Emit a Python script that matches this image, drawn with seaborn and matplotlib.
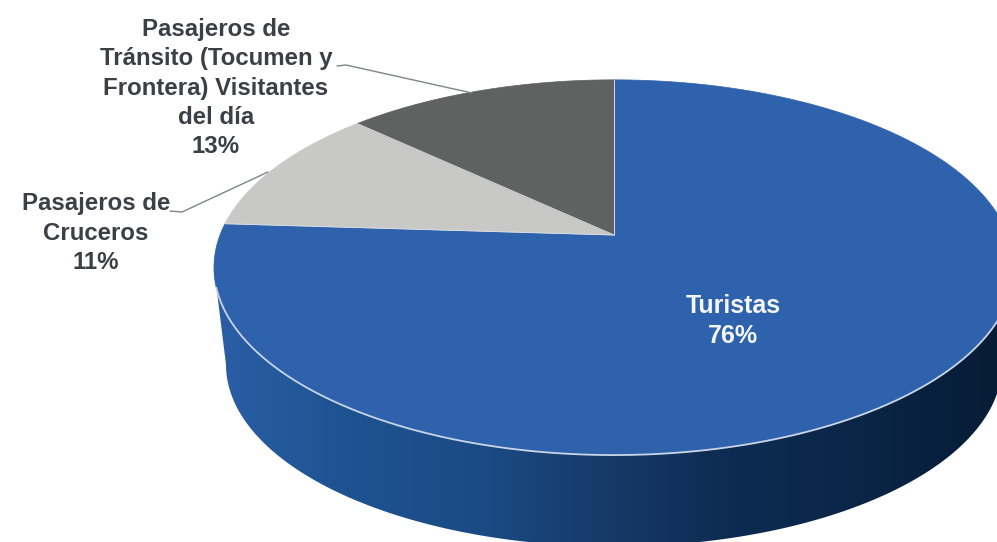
import numpy as np
import matplotlib
matplotlib.use("Agg")
import matplotlib.pyplot as plt
from matplotlib.patches import Polygon
import seaborn as sns

# data, clockwise from 12 o'clock
labels = ["Turistas", "Pasajeros de\nCruceros", "Pasajeros de\nTránsito (Tocumen y\nFrontera) Visitantes\ndel día"]
values = [76, 11, 13]
colors = ["#2f62ad", "#c8c8c6", "#606261"]
wall_colors = ["#2b5ea6", "#1d5391", "#1b4b86", "#163a69", "#0d2b52", "#0a2546", "#071c36"]
text_colors = ["#f4f6fa", "#3b4046", "#3b4046"]
label_pos = [(733, 321), (96, 233), (216, 88)]
label_size = [18, 17.3, 17.3]

# projection of the disc in image pixels
CX, CY = 614, 235
RX, RY = 394, 182
PERSP = 0.173
DEPTH = 98
BOTTOM_SCALE = 0.97


def project(theta, scale=1.0, drop=0.0):
    u, v = np.cos(theta), np.sin(theta)
    w = 1 + PERSP * v
    return CX + scale * RX * u / w, CY + drop - scale * RY * v / w


sns.set_theme(style="white")
plt.rcParams["font.family"] = ["Liberation Sans", "DejaVu Sans"]

fig = plt.figure(figsize=(9.97, 5.42), dpi=100)
ax = fig.add_axes([0, 0, 1, 1])

# side wall, gradient clipped to the band between the two rims
angles = np.radians(np.linspace(150, 390, 800))
tx, ty = project(angles)
bx, by = project(angles, BOTTOM_SCALE, DEPTH)
top_l, top_r = np.argmin(tx), np.argmax(tx)
bot_l, bot_r = np.argmin(bx), np.argmax(bx)
wall_x = np.r_[tx[top_l:top_r + 1], bx[bot_l:bot_r + 1][::-1]]
wall_y = np.r_[ty[top_l:top_r + 1], by[bot_l:bot_r + 1][::-1]]
wall = Polygon(np.c_[wall_x, wall_y], closed=True, facecolor="none", edgecolor="none")
ax.add_patch(wall)
shades = np.array(sns.blend_palette(wall_colors, n_colors=400))[None, :, :]
img = ax.imshow(shades, extent=[214, 997, 542, 0], aspect="auto", zorder=2)
img.set_clip_path(wall)

ax.set_xlim(0, 997)
ax.set_ylim(542, 0)
ax.axis("off")

# top face
start = 90.0
for val, col in zip(values, colors):
    end = start - val * 3.6
    th = np.radians(np.linspace(start, end, 300))
    x, y = project(th)
    ax.fill(np.r_[CX, x], np.r_[CY, y], facecolor=col, edgecolor=col, lw=0.5, zorder=3)
    start = end

# light lines along the front rim and the slice edges
rim = np.radians(np.linspace(196, 345, 300))
rx, ry = project(rim)
ax.plot(rx, ry, color="#c9d5e3", lw=1.3, zorder=4)
start = 90.0
for val in values:
    ex, ey = project(np.radians(start))
    ax.plot([CX, ex], [CY, ey], color="#d8dde2", lw=0.7, zorder=4)
    start -= val * 3.6

# leader lines
ax.plot([337, 346, 472], [66, 65, 93], color="#7d8788", lw=1.0, zorder=5)
ax.plot([170, 182, 268], [211, 212, 172], color="#7d8788", lw=1.0, zorder=5)

# labels
for lab, val, pos, tc, fs in zip(labels, values, label_pos, text_colors, label_size):
    ax.text(pos[0], pos[1], f"{lab}\n{val}%", ha="center", va="center", color=tc,
            fontsize=fs, fontweight="bold", linespacing=1.36, zorder=6)

fig.savefig("out.png", dpi=100)
